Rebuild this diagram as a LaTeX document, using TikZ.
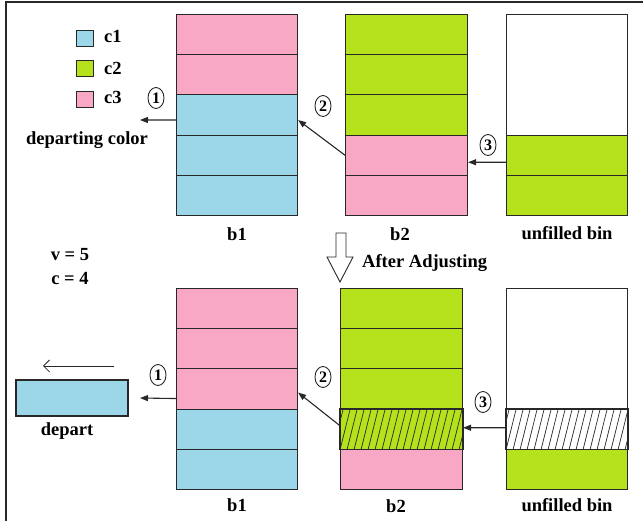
\documentclass[tikz,border=0pt]{standalone}
\usepackage{fontspec}
\setmainfont{Liberation Serif}
\usetikzlibrary{arrows.meta,calc,shapes.geometric}
\definecolor{blueC}{RGB}{155,215,232}
\definecolor{greenC}{RGB}{181,226,28}
\definecolor{pinkC}{RGB}{248,168,196}
\definecolor{lineC}{RGB}{40,40,40}
\tikzset{
  cell/.style={draw=lineC, line width=1.1pt, rectangle, inner sep=0pt, anchor=north west,
               minimum height=40.2pt},
  lbl/.style={font=\bfseries\fontsize{18.5}{20}\selectfont, inner sep=0pt},
  num/.style={draw=lineC, line width=0.9pt, ellipse, inner sep=0pt, minimum width=16pt,
              minimum height=21pt, font=\bfseries\fontsize{16}{16}\selectfont},
  conn/.style={draw=lineC, line width=1.1pt, -{Triangle[length=8pt,width=6pt]}},
  key/.style={draw=lineC, line width=0.8pt, rectangle, inner sep=0pt, minimum width=17pt, minimum height=16pt}
}
\begin{document}
\begin{tikzpicture}[x=1pt,y=-1pt]
\useasboundingbox (0,0) rectangle (643,521);
% frame lines
\draw[line width=2pt, lineC] (6,521) -- (6,2) -- (643,2);

% legend
\node[key, fill=blueC] (k1) at (84.5,38.5) {};
\node[key, fill=greenC] (k2) at (84.5,68.5) {};
\node[key, fill=pinkC] (k3) at (84.5,99.5) {};
\node[lbl, anchor=west] (t1) at (104,36) {c1};
\node[lbl, anchor=west] (t2) at (104,68) {c2};
\node[lbl, anchor=west] (t3) at (104,97) {c3};

% ---------- top b1 ----------
\foreach \r/\c [count=\k] in {0/pinkC,1/pinkC,2/blueC,3/blueC,4/blueC}
  \node[cell, minimum width=121pt, fill=\c] (ta\k) at (176,14+\r*40.2) {};
% top b2
\foreach \r/\c [count=\k] in {0/greenC,1/greenC,2/greenC,3/pinkC,4/pinkC}
  \node[cell, minimum width=122pt, fill=\c] (tb\k) at (345,14+\r*40.2) {};
% top unfilled
\node[cell, minimum width=121pt, minimum height=120.6pt, fill=white] (tu1) at (506,14) {};
\node[cell, minimum width=121pt, fill=greenC] (tu4) at (506,134.6) {};
\node[cell, minimum width=121pt, fill=greenC] (tu5) at (506,174.8) {};

\node[lbl] (lb1) at (237,234) {b1};
\node[lbl] (lb2) at (400,234) {b2};
\node[lbl] (lbu) at (567,233) {unfilled bin};

% top connectors
\coordinate (dep1) at (140,120);
\draw[conn] ([yshift=-5pt]ta3.west) -- (dep1);
\node[num] (n1) at (156,98) {1};
\node[lbl] (dc) at (87,140) {departing color};
\draw[conn] (tb4.west) -- ([yshift=-5pt]ta3.east);
\node[num] (n2) at (323,106) {2};
\draw[conn] ([yshift=-7pt]tu4.west) -- ([yshift=-7pt]tb4.east);
\node[num] (n3) at (488,145) {3};

% hollow down arrow
\draw[lineC, line width=0.9pt, fill=white] (336,233) -- (346,233) -- (346,257) -- (353,257)
  -- (340,282) -- (327,257) -- (336,257) -- cycle;
\node[lbl, anchor=west] (adj) at (362,263) {After Adjusting};

\node[lbl] (vv) at (70,255) {v = 5};
\node[lbl] (cc) at (70,278) {c = 4};

% ---------- bottom b1 ----------
\foreach \r/\c [count=\k] in {0/pinkC,1/pinkC,2/pinkC,3/blueC,4/blueC}
  \node[cell, minimum width=121pt, fill=\c] (ba\k) at (176,288+\r*40.2) {};
% bottom b2
\foreach \r/\c [count=\k] in {0/greenC,1/greenC,2/greenC,3/greenC,4/pinkC}
  \node[cell, minimum width=122pt, fill=\c] (bb\k) at (340,288+\r*40.2) {};
% bottom unfilled
\node[cell, minimum width=121pt, minimum height=120.6pt, fill=white] (bu1) at (506,288) {};
\node[cell, minimum width=121pt, fill=white] (bu4) at (506,408.6) {};
\node[cell, minimum width=121pt, fill=greenC] (bu5) at (506,448.8) {};

% hatching
\foreach \n in {bb4,bu4}{
  \begin{scope}
    \clip (\n.south west) rectangle (\n.north east);
    \foreach \i in {-2,...,19}
      \draw[lineC, line width=0.7pt] ($(\n.south west)+(\i*7,0)$) -- ++(10,-40.2);
  \end{scope}
  \draw[lineC, line width=1.1pt] (\n.south west) rectangle (\n.north east);
}

\node[lbl] (lb1b) at (237,505) {b1};
\node[lbl] (lb2b) at (396,506) {b2};
\node[lbl] (lbub) at (567,505) {unfilled bin};

% depart box
\node[draw=lineC, line width=1.1pt, fill=blueC, rectangle, inner sep=0pt, minimum width=112pt,
      minimum height=36pt] (dbox) at (72,398) {};
\node[lbl] (dtx) at (67,431) {depart};
\coordinate (da1) at (114,366);
\coordinate (da2) at (43,366);
\draw[lineC, line width=0.8pt, -{Straight Barb[length=6pt,width=12pt]}] (da1) -- (da2);

% bottom connectors
\coordinate (dep2) at (140,398);
\draw[conn] ([yshift=-9.5pt]ba3.west) -- (dep2);
\node[num] (m1) at (158,375) {1};
\draw[conn] ([yshift=3.5pt]bb4.west) -- ([yshift=-3.5pt]ba3.east);
\node[num] (m2) at (323,377) {2};
\draw[conn] ([yshift=1.5pt]bu4.west) -- ([yshift=1.5pt]bb4.east);
\node[num] (m3) at (483,402) {3};
\end{tikzpicture}
\end{document}
